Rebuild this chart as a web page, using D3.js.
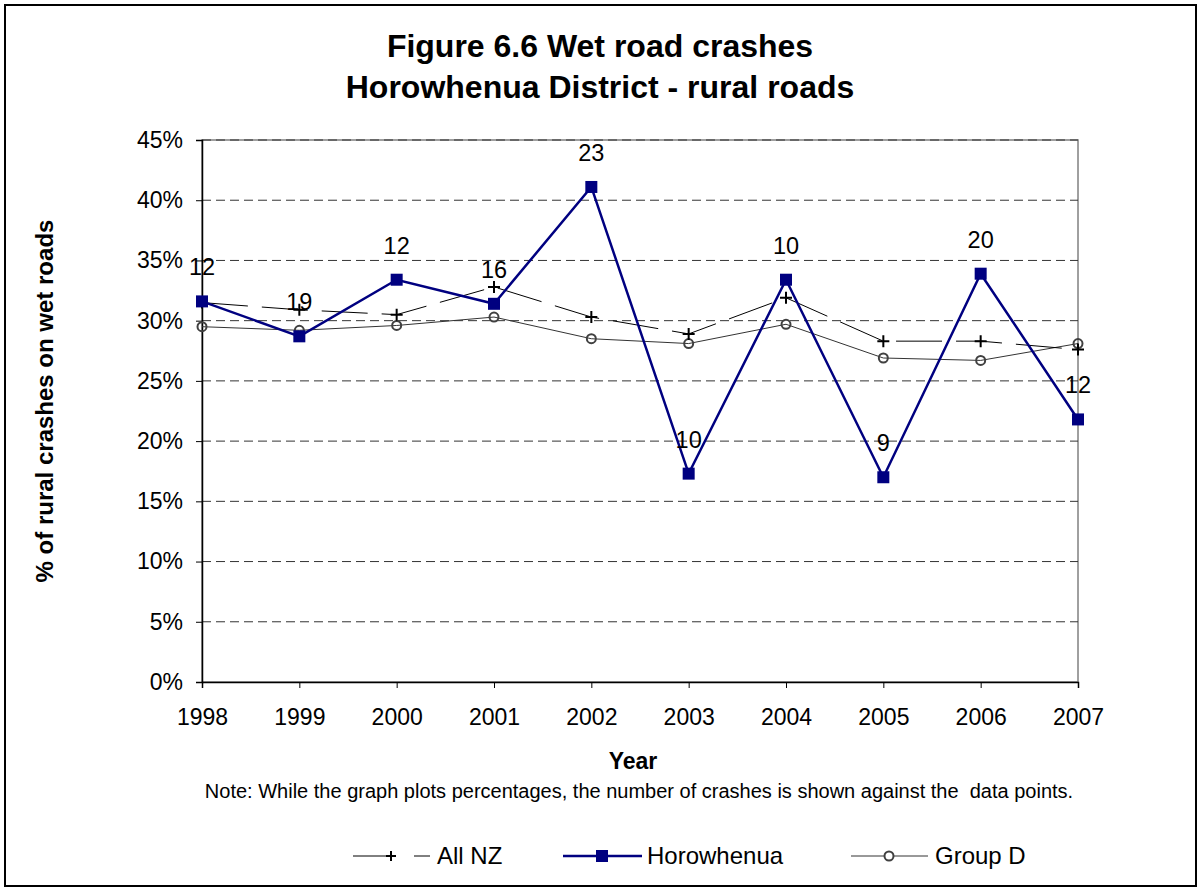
<!DOCTYPE html>
<html>
<head>
<meta charset="utf-8">
<script src="https://cdn.jsdelivr.net/npm/d3@7"></script>
<style>
  html, body { margin: 0; padding: 0; background: #fff; }
  svg { display: block; font-family: "Liberation Sans", Arial, sans-serif; }
</style>
</head>
<body>
<svg id="chart" width="1202" height="892"></svg>
<script>
// Wet road crash shares, rural roads, 1998–2007
const years = ["1998","1999","2000","2001","2002","2003","2004","2005","2006","2007"];
const allNZ = [31.5, 30.9, 30.5, 32.8, 30.3, 28.9, 31.9, 28.3, 28.3, 27.6];
const horowhenua = [31.6, 28.7, 33.4, 31.4, 41.1, 17.3, 33.4, 17.0, 33.9, 21.8];
const groupD = [29.5, 29.2, 29.6, 30.3, 28.5, 28.1, 29.7, 26.9, 26.7, 28.1];
const crashCounts = [12, 19, 12, 16, 23, 10, 10, 9, 20, 12];
const yTicks = [0, 5, 10, 15, 20, 25, 30, 35, 40, 45];

const svg = d3.select("#chart");
const plot = { left: 202, right: 1078, top: 140, bottom: 682 };
const FONT = "Liberation Sans, Arial, sans-serif";

// outer chart frame
svg.append("rect")
  .attr("x", 5).attr("y", 5).attr("width", 1191).attr("height", 881)
  .attr("fill", "#fff").attr("stroke", "#000").attr("stroke-width", 2);

// titles
const title = svg.append("text").attr("text-anchor", "middle")
  .attr("font-weight", "bold").attr("font-size", 32).attr("fill", "#000");
title.append("tspan").attr("x", 600).attr("y", 57).text("Figure 6.6 Wet road crashes");
title.append("tspan").attr("x", 600).attr("y", 98).text("Horowhenua District - rural roads");

const x = d3.scalePoint().domain(years).range([plot.left, plot.right]);
const y = d3.scaleLinear().domain([0, 45]).range([plot.bottom, plot.top]);

// plot area border
svg.append("rect")
  .attr("x", plot.left).attr("y", plot.top)
  .attr("width", plot.right - plot.left).attr("height", plot.bottom - plot.top)
  .attr("fill", "none").attr("stroke", "#808080").attr("stroke-width", 1.5);

// horizontal gridlines
svg.append("g").selectAll("line")
  .data(yTicks.filter(t => t > 0))
  .join("line")
  .attr("x1", plot.left).attr("x2", plot.right)
  .attr("y1", d => y(d)).attr("y2", d => y(d))
  .attr("stroke", "#333").attr("stroke-width", 1)
  .attr("stroke-dasharray", "9,5");

// y axis
const yAxis = d3.axisLeft(y).tickValues(yTicks).tickSize(6).tickPadding(13)
  .tickFormat(d => d + "%");
svg.append("g").attr("transform", `translate(${plot.left},0)`).call(yAxis)
  .call(g => {
    g.select(".domain").attr("stroke", "#000").attr("stroke-width", 1.5);
    g.selectAll(".tick line").attr("stroke", "#000");
    g.selectAll("text").attr("font-size", 23).attr("fill", "#000").attr("font-family", FONT);
  });

// x axis
const xAxis = d3.axisBottom(x).tickSize(6).tickPadding(21);
svg.append("g").attr("transform", `translate(0,${plot.bottom})`).call(xAxis)
  .call(g => {
    g.select(".domain").attr("stroke", "#000").attr("stroke-width", 1.5);
    g.selectAll(".tick line").attr("stroke", "#000");
    g.selectAll("text").attr("font-size", 23).attr("fill", "#000").attr("font-family", FONT);
  });

// axis titles
svg.append("text").attr("x", 633).attr("y", 769).attr("text-anchor", "middle")
  .attr("font-weight", "bold").attr("font-size", 23).text("Year");
svg.append("text")
  .attr("transform", "translate(53,401) rotate(-90)")
  .attr("text-anchor", "middle").attr("font-weight", "bold").attr("font-size", 24)
  .text("% of rural crashes on wet roads");

svg.append("text").attr("x", 639).attr("y", 798).attr("text-anchor", "middle")
  .attr("font-size", 20)
  .attr("xml:space", "preserve")
  .text("Note: While the graph plots percentages, the number of crashes is shown against the  data points.");

const line = d3.line().x((d, i) => x(years[i])).y(d => y(d));

// Group D series
svg.append("path").datum(groupD).attr("d", line)
  .attr("fill", "none").attr("stroke", "#333").attr("stroke-width", 1);
// All NZ series
svg.append("path").datum(allNZ).attr("d", line)
  .attr("fill", "none").attr("stroke", "#000").attr("stroke-width", 1)
  .attr("stroke-dasharray", "46,14");
svg.append("g").selectAll("circle").data(groupD).join("circle")
  .attr("cx", (d, i) => x(years[i])).attr("cy", d => y(d)).attr("r", 4.5)
  .attr("fill", "none").attr("stroke", "#404040").attr("stroke-width", 2);

function plus(g, cx, cy, s) {
  g.append("path").attr("d", `M${cx - s},${cy}H${cx + s}M${cx},${cy - s}V${cy + s}`)
    .attr("stroke", "#000").attr("stroke-width", 2).attr("fill", "none");
}
const plusG = svg.append("g");
allNZ.forEach((d, i) => plus(plusG, x(years[i]), y(d), 6));

// Horowhenua series
svg.append("path").datum(horowhenua).attr("d", line)
  .attr("fill", "none").attr("stroke", "#000080").attr("stroke-width", 2.5);
svg.append("g").selectAll("rect").data(horowhenua).join("rect")
  .attr("x", (d, i) => x(years[i]) - 6).attr("y", d => y(d) - 6)
  .attr("width", 12).attr("height", 12).attr("fill", "#000080");

// crash count labels
svg.append("g").selectAll("text").data(horowhenua).join("text")
  .attr("x", (d, i) => x(years[i])).attr("y", d => y(d) - 26)
  .attr("text-anchor", "middle").attr("font-size", 23.5).attr("fill", "#000")
  .text((d, i) => crashCounts[i]);

// legend
const ly = 856;
const lg = svg.append("g");
lg.append("line").attr("x1", 353).attr("x2", 392).attr("y1", ly).attr("y2", ly)
  .attr("stroke", "#000").attr("stroke-width", 1);
lg.append("line").attr("x1", 414).attr("x2", 430).attr("y1", ly).attr("y2", ly)
  .attr("stroke", "#000").attr("stroke-width", 1);
plus(lg, 391, ly, 5);
lg.append("text").attr("x", 437).attr("y", ly + 8).attr("font-size", 24).text("All NZ");

lg.append("line").attr("x1", 563).attr("x2", 642).attr("y1", ly).attr("y2", ly)
  .attr("stroke", "#000080").attr("stroke-width", 2.5);
lg.append("rect").attr("x", 596).attr("y", ly - 6).attr("width", 12).attr("height", 12)
  .attr("fill", "#000080");
lg.append("text").attr("x", 647).attr("y", ly + 8).attr("font-size", 24).text("Horowhenua");

lg.append("line").attr("x1", 851).attr("x2", 928).attr("y1", ly).attr("y2", ly)
  .attr("stroke", "#333").attr("stroke-width", 1);
lg.append("circle").attr("cx", 889).attr("cy", ly).attr("r", 4.5)
  .attr("fill", "#fff").attr("stroke", "#404040").attr("stroke-width", 2);
lg.append("text").attr("x", 935).attr("y", ly + 8).attr("font-size", 24).text("Group D");
</script>
</body>
</html>
